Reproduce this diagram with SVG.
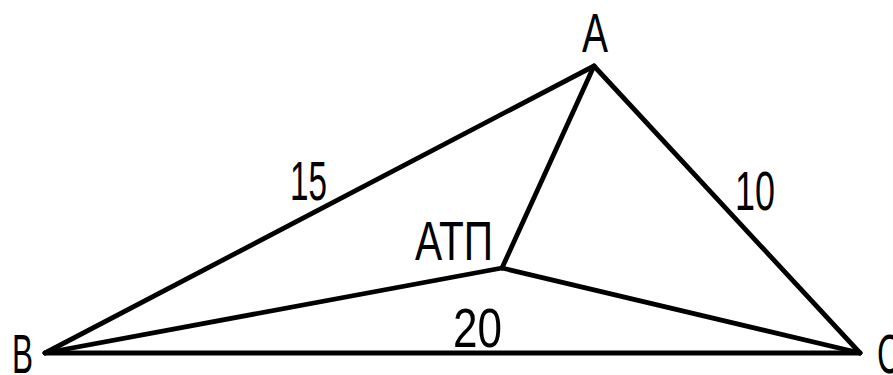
<svg xmlns="http://www.w3.org/2000/svg" width="893" height="375" viewBox="0 0 893 375">
<style>
.e{stroke:#000;stroke-width:4.8;stroke-linecap:round;fill:none}
text{font-family:"Liberation Sans",Arial,sans-serif;font-size:55px;fill:#000}
</style>
<rect width="893" height="375" fill="#fff"/>
<g id="connectors">
<line class="e" x1="45" y1="353" x2="594" y2="66"/>
<line class="e" x1="594" y1="66" x2="860" y2="353"/>
<line class="e" x1="45" y1="353" x2="860" y2="353"/>
<line class="e" x1="502" y1="268" x2="594" y2="66"/>
<line class="e" x1="502" y1="268" x2="45" y2="353"/>
<line class="e" x1="502" y1="268" x2="860" y2="353"/>
<text x="290" y="200" textLength="37" lengthAdjust="spacingAndGlyphs">15</text>
<text x="735" y="210" textLength="40" lengthAdjust="spacingAndGlyphs">10</text>
<text x="453" y="347" textLength="49" lengthAdjust="spacingAndGlyphs">20</text>
</g>
<g id="node-A"><text x="582" y="52" textLength="26" lengthAdjust="spacingAndGlyphs">A</text></g>
<g id="node-B"><text x="12" y="373" textLength="21" lengthAdjust="spacingAndGlyphs">B</text></g>
<g id="node-C"><text x="877" y="373" textLength="24" lengthAdjust="spacingAndGlyphs">C</text></g>
<g id="node-ATP"><text x="415" y="260" textLength="78" lengthAdjust="spacingAndGlyphs">АТП</text></g>
</svg>
